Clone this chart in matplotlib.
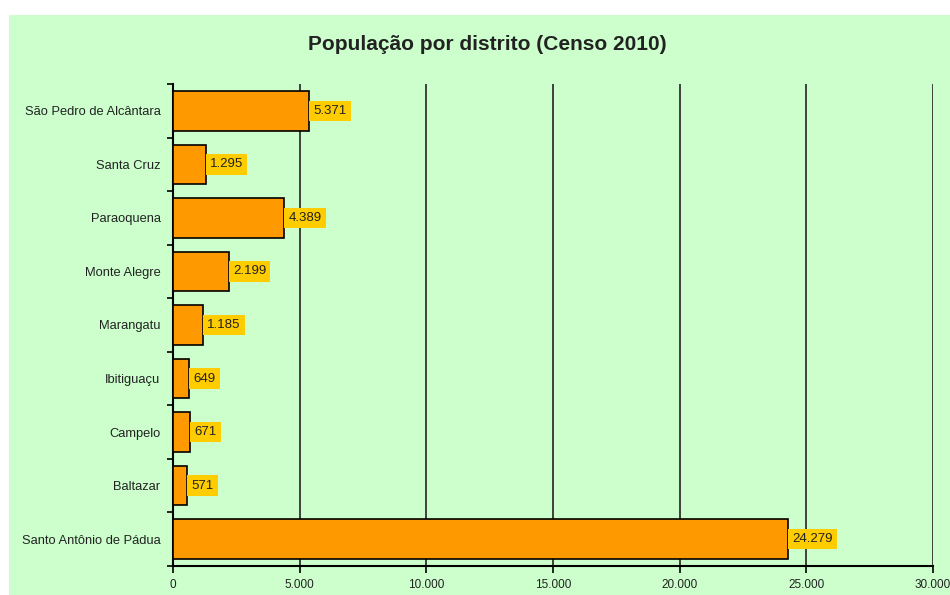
import matplotlib.pyplot as plt
import matplotlib.patches as mpatches
import numpy as np

districts = ['São Pedro de Alcântara', 'Santa Cruz', 'Paraoquena', 'Monte Alegre',
             'Marangatu', 'Ibitiguaçu', 'Campelo', 'Baltazar', 'Santo Antônio de Pádua']
population = [5371, 1295, 4389, 2199, 1185, 649, 671, 571, 24279]
xticks = [0, 5000, 10000, 15000, 20000, 25000, 30000]
xtick_labels = ['0', '5.000', '10.000', '15.000', '20.000', '25.000', '30.000']

plt.rcParams['font.family'] = ['Liberation Sans', 'DejaVu Sans']

fig = plt.figure(figsize=(9.5, 5.95), dpi=100)
fig.patch.set_facecolor('white')
# green panel behind the chart
fig.patches.append(mpatches.Rectangle((9 / 950, 0), 1, 1 - 15 / 595,
                                      transform=fig.transFigure,
                                      facecolor='#ccffcc', edgecolor='none', zorder=-1))

ax = fig.add_axes([173 / 950, 29 / 595, 760 / 950, 482 / 595])
ax.set_facecolor('none')

y = np.arange(len(districts))
ax.barh(y, population, height=0.74, color='#ff9900', edgecolor='black', linewidth=1.2, zorder=3)

for yi, v in zip(y, population):
    label = '{:,}'.format(v).replace(',', '.')
    ax.annotate(label, xy=(v, yi), xytext=(3, 0), textcoords='offset points',
                va='center', ha='left', fontsize=9.5, color='#222222', zorder=4,
                bbox=dict(boxstyle='square,pad=0.32', facecolor='#ffcc00', edgecolor='none'))

ax.set_xlim(0, 30000)
ax.set_ylim(len(districts) - 0.5, -0.5)
ax.set_xticks(xticks)
ax.set_xticklabels(xtick_labels, fontsize=8.5, color='#222222')
ax.set_yticks(y)
ax.set_yticklabels(districts, fontsize=9.3, color='#222222')
ax.tick_params(axis='y', length=0, pad=9)
ax.set_yticks(np.arange(len(districts) + 1) - 0.5, minor=True)
ax.tick_params(axis='y', which='minor', length=4, width=1.2, color='black')
ax.tick_params(axis='x', length=5, width=1.2, color='black', pad=4)

for gx in xticks[1:]:
    ax.axvline(gx, color='#333333', linewidth=1.3, zorder=1)

for side in ['top', 'right']:
    ax.spines[side].set_visible(False)
ax.spines['left'].set_linewidth(1.5)
ax.spines['bottom'].set_linewidth(1.5)

fig.text(487 / 950, 1 - 45 / 595, 'População por distrito (Censo 2010)',
         ha='center', va='center', fontsize=15, fontweight='bold', color='#222222')

fig.savefig('out.png', dpi=100)
